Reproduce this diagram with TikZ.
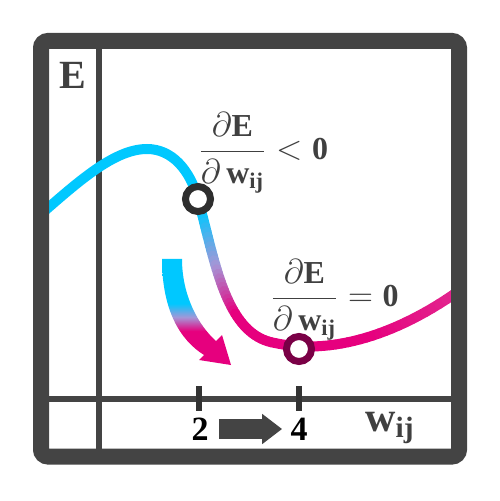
\documentclass[tikz,border=0pt]{standalone}
\usepackage{fontspec}
\setmainfont{Liberation Serif}
\usetikzlibrary{arrows.meta}
\definecolor{framegray}{RGB}{68,68,68}
\definecolor{tickgray}{RGB}{51,51,51}
\definecolor{textgray}{RGB}{64,64,64}
\definecolor{curvecyan}{RGB}{0,200,255}
\definecolor{curvelav}{RGB}{165,150,215}
\definecolor{curvemag}{RGB}{230,0,126}
\definecolor{curvepink}{RGB}{222,80,160}
\definecolor{ringdark}{RGB}{46,46,46}
\definecolor{ringwine}{RGB}{122,0,70}
\pgfdeclareverticalshading{descshade}{100bp}{color(0bp)=(curvemag); color(41bp)=(curvemag);
  color(47.5bp)=(curvelav); color(54bp)=(curvecyan); color(100bp)=(curvecyan)}

\begin{document}
\begin{tikzpicture}[
  x=0.5pt, y=-0.5pt,
  axisline/.style={framegray, line width=3pt},
  tickmark/.style={tickgray, line width=3pt},
  curveline/.style={line width=5pt, line cap=round},
  ring/.style={circle, draw=#1, fill=white, line width=3.5pt, minimum size=12.5pt, inner sep=0pt},
  fraclab/.style={text=textgray, inner sep=0pt, font=\fontsize{16}{19}\selectfont},
  numlab/.style={text=black, inner sep=0pt, font=\bfseries\fontsize{17}{20}\selectfont},
  blockarrow/.style={framegray, line width=10pt, -{Triangle[length=10pt, width=14.5pt]},
    shorten <=5pt, shorten >=4pt}
]
\useasboundingbox (0,0) rectangle (499,501);

% axes
\draw[axisline] (99,45) -- (99,452);
\draw[axisline] (45,399) -- (455,399);
\draw[tickmark] (199,386) -- (199,411);
\draw[tickmark] (299,386) -- (299,411);

% error curve: rising part
\draw[curveline, curvecyan] (40,215) .. controls (80,180) and (115,149) .. (147,149)
  .. controls (172,149) and (190,170) .. (198,199);
% steep part, cyan to magenta
\path (198,199) .. controls (215,260) and (225,335) .. (275,343)
  foreach \k [evaluate=\k as \kt using \k/40] in {0,...,40} {coordinate[pos=\kt] (desc\k)};
\foreach \k [count=\j from 1] in {0,...,39} {
  \pgfmathtruncatemacro\mixp{max(0,min(200,(\k/40-0.07)/0.58*200))}
  \ifnum\mixp<100
    \colorlet{segcol}{curvelav!\mixp!curvecyan}
  \else
    \pgfmathtruncatemacro\mixq{\mixp-100}
    \colorlet{segcol}{curvemag!\mixq!curvelav}
  \fi
  \draw[curveline, segcol] (desc\k) -- (desc\j);
}
% valley and right part
\path (275,343) .. controls (325,354) and (390,340) .. (460,290)
  foreach \k [evaluate=\k as \kt using \k/30] in {0,...,30} {coordinate[pos=\kt] (vall\k)};
\foreach \k [count=\j from 1] in {0,...,29} {
  \pgfmathtruncatemacro\lightp{max(0,min(45,(\k/30-0.55)/0.4*45))}
  \draw[curveline, curvepink!\lightp!curvemag] (vall\k) -- (vall\j);
}

% descent arrow
\shade[shading=descshade] (162,259) -- (182,259) .. controls (182,295) and (198,325) .. (216,341)
  -- (222,335) -- (231,365) -- (199,360) -- (204,355) .. controls (180,340) and (162,310) .. (162,259) -- cycle;

\node[ring=ringdark] (pneg) at (198,199) {};
\node[ring=ringwine] (pmin) at (299,349) {};

\node[fraclab, anchor=west] (gradneg) at (198,153)
  {$\displaystyle\frac{\partial\mathbf{E}}{\partial\,\mathbf{w}_{\mathbf{ij}}}<\mathbf{0}$};
\node[fraclab, anchor=west] (gradzero) at (270,300)
  {$\displaystyle\frac{\partial\mathbf{E}}{\partial\,\mathbf{w}_{\mathbf{ij}}}=\mathbf{0}$};

\node[text=textgray, font=\bfseries\fontsize{20}{24}\selectfont] (elab) at (73,75) {E};
\node[text=textgray, font=\fontsize{21}{25}\selectfont] (wlab) at (390,428)
  {$\mathbf{w}_{\mathbf{ij}}$};

\node[numlab] (two) at (200,429) {2};
\node[numlab] (four) at (299,429) {4};
\draw[blockarrow] (two) -- (four);

% frame
\draw[framegray, line width=8pt, rounded corners=3.5pt] (41,41) rectangle (459,456.5);
\end{tikzpicture}
\end{document}
